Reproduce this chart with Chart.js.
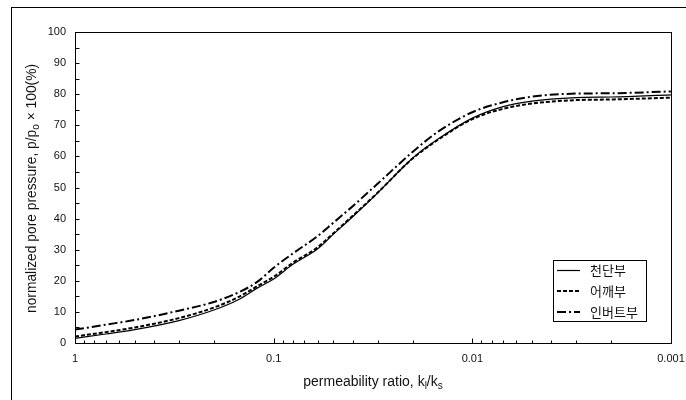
<!DOCTYPE html>
<html><head><meta charset="utf-8">
<script src="https://cdn.jsdelivr.net/npm/chart.js@4/dist/chart.umd.min.js"></script>
<style>html,body{margin:0;padding:0;background:#fff;} #wrap{width:686px;height:400px;position:relative;}</style>
</head><body><div id="wrap"><canvas id="c" width="686" height="400"></canvas></div>
<script>
const permeabilityRatio = [1, 0.7, 0.5, 0.3, 0.2, 0.15, 0.12, 0.1, 0.08, 0.06, 0.05, 0.04, 0.03, 0.02, 0.015, 0.01, 0.007, 0.005, 0.003, 0.002, 0.001];
const crown    = [1.5, 2.9, 4.3, 7.2, 10.6, 14.0, 17.8, 20.6, 25.3, 30.3, 35.0, 40.6, 48.2, 59.4, 65.4, 72.3, 76.0, 77.8, 78.9, 79.1, 79.8];
const shoulder = [2.1, 3.5, 5.0, 8.0, 11.4, 14.8, 18.4, 21.3, 25.8, 30.8, 35.3, 40.9, 48.3, 59.3, 65.2, 72.0, 75.3, 77.0, 78.1, 78.3, 78.9];
const invert   = [4.3, 5.9, 7.4, 10.4, 13.2, 16.3, 19.8, 24.2, 28.8, 34.4, 38.7, 44.0, 51.2, 61.4, 67.8, 74.2, 77.4, 79.2, 80.2, 80.3, 80.9];
const seriesLabels = ['천단부', '어깨부', '인버트부'];
const xTickValues = [1, 0.1, 0.01, 0.001];
const xTickLabels = ['1', '0.1', '0.01', '0.001'];
const yTickValues = [0, 10, 20, 30, 40, 50, 60, 70, 80, 90, 100];
const yTickLabels = ['0', '10', '20', '30', '40', '50', '60', '70', '80', '90', '100'];

const toPts = arr => permeabilityRatio.map((x, i) => ({x: x, y: arr[i]}));

Chart.defaults.font.family = '"Liberation Sans", Arial, sans-serif';
Chart.defaults.font.size = 11;
Chart.defaults.color = '#000';

function drawRich(ctx, segs, cx, cy, size) {
  const sub = Math.round(size * 0.72);
  let total = 0;
  segs.forEach(s => { ctx.font = (s.sub ? sub : size) + 'px "Liberation Sans", Arial, sans-serif'; s.w = ctx.measureText(s.t).width; total += s.w; });
  let x = cx - total / 2;
  ctx.textAlign = 'left';
  ctx.textBaseline = 'middle';
  segs.forEach(s => {
    ctx.font = (s.sub ? sub : size) + 'px "Liberation Sans", Arial, sans-serif';
    ctx.fillText(s.t, x, s.sub ? cy + size * 0.3 : cy);
    x += s.w;
  });
}

const deco = {
  id: 'deco',
  afterDraw(chart) {
    const ctx = chart.ctx, a = chart.chartArea, xs = chart.scales.x, ys = chart.scales.y;
    ctx.save();
    ctx.strokeStyle = '#000';
    ctx.fillStyle = '#000';
    ctx.lineWidth = 1;
    ctx.strokeRect(11.5, 7.5, 800, 600);
    const L = Math.round(a.left) + 0.5, T = Math.round(a.top) + 0.5, R = Math.round(a.right) + 0.5, B = Math.round(a.bottom) + 0.5;
    ctx.strokeRect(L, T, R - L, B - T);
    ctx.beginPath();
    for (let v = 0; v <= 100; v += 5) {
      const py = Math.round(ys.getPixelForValue(v)) + 0.5;
      ctx.moveTo(L, py); ctx.lineTo(L + 4, py);
    }
    [1, 0.1, 0.01].forEach(d => {
      for (let m = 1; m <= 9; m++) {
        const v = d * m / 10;
        const px = Math.round(xs.getPixelForValue(v)) + 0.5;
        const len = (m === 1) ? 5 : 3;
        ctx.moveTo(px, B); ctx.lineTo(px, B - len);
      }
    });
    const p1 = Math.round(xs.getPixelForValue(1)) + 0.5;
    ctx.moveTo(p1, B); ctx.lineTo(p1, B - 5);
    ctx.stroke();
    ctx.fillStyle = '#111';
    ctx.save();
    ctx.translate(32, 188.5);
    ctx.rotate(-Math.PI / 2);
    drawRich(ctx, [{t: 'normalized pore pressure, p/p'}, {t: 'o', sub: true}, {t: ' × 100(%)'}], 0, 0, 13.8);
    ctx.restore();
    drawRich(ctx, [{t: 'permeability ratio, k'}, {t: 'l', sub: true}, {t: '/k'}, {t: 's', sub: true}], (a.left + a.right) / 2, 382, 14);
    ctx.strokeStyle = '#000';
    ctx.lineWidth = 1;
    ctx.strokeRect(553.5, 260.5, 93, 61);
    const rows = [270.5, 291, 312];
    chart.data.datasets.forEach((ds, i) => {
      ctx.beginPath();
      ctx.setLineDash(ds.borderDash || []);
      ctx.lineWidth = ds.borderWidth;
      ctx.moveTo(557, rows[i]); ctx.lineTo(580, rows[i]);
      ctx.stroke();
      ctx.setLineDash([]);
      ctx.font = '13px "Noto Sans CJK KR", sans-serif';
      ctx.textAlign = 'left';
      ctx.textBaseline = 'middle';
      ctx.fillStyle = '#111';
      ctx.fillText(ds.label, 590, rows[i]);
    });
    ctx.restore();
  }
};

new Chart(document.getElementById('c'), {
  type: 'line',
  data: {
    datasets: [
      {label: seriesLabels[0], data: toPts(crown), borderColor: '#000', borderWidth: 1.2, borderDash: [], pointRadius: 0, cubicInterpolationMode: 'monotone', fill: false},
      {label: seriesLabels[1], data: toPts(shoulder), borderColor: '#000', borderWidth: 2, borderDash: [4, 2], pointRadius: 0, cubicInterpolationMode: 'monotone', fill: false},
      {label: seriesLabels[2], data: toPts(invert), borderColor: '#000', borderWidth: 2, borderDash: [9, 3, 2, 3], pointRadius: 0, cubicInterpolationMode: 'monotone', fill: false}
    ]
  },
  options: {
    responsive: false,
    animation: false,
    devicePixelRatio: 1,
    layout: {padding: {left: 0, top: 32, right: 15, bottom: 0}},
    plugins: {legend: {display: false}, tooltip: {enabled: false}},
    scales: {
      x: {
        type: 'logarithmic', reverse: true, min: 0.001, max: 1,
        grid: {display: true, drawOnChartArea: false, drawTicks: false},
        border: {display: false},
        afterBuildTicks: s => { s.ticks = xTickValues.map(v => ({value: v})); },
        afterFit: s => { s.height = 57; s.paddingLeft = 0; s.paddingRight = 0; s.paddingTop = 0; s.paddingBottom = 0; },
        ticks: {padding: 9, autoSkip: false, maxRotation: 0, font: {size: 11}, color: '#111',
          callback: (v) => { const i = xTickValues.indexOf(v); return i >= 0 ? xTickLabels[i] : ''; }}
      },
      y: {
        type: 'linear', min: 0, max: 100,
        grid: {display: true, drawOnChartArea: false, drawTicks: false},
        border: {display: false},
        afterBuildTicks: s => { s.ticks = yTickValues.map(v => ({value: v})); },
        afterFit: s => { s.width = 75; s.paddingLeft = 0; s.paddingRight = 0; s.paddingTop = 0; s.paddingBottom = 0; },
        ticks: {padding: 9, font: {size: 11}, color: '#111',
          callback: (v) => { const i = yTickValues.indexOf(v); return i >= 0 ? yTickLabels[i] : ''; }}
      }
    }
  },
  plugins: [deco]
});
</script>
</body></html>
